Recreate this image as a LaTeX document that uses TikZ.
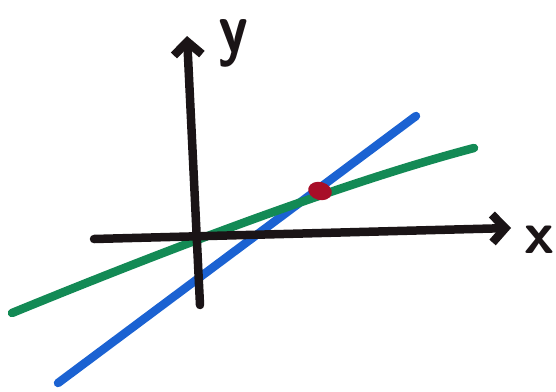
\documentclass[tikz,border=0pt]{standalone}
\usetikzlibrary{arrows.meta,shapes.geometric}
\definecolor{penblack}{HTML}{1A1416}
\definecolor{pengreen}{HTML}{138A55}
\definecolor{penblue}{HTML}{1B62D2}
\definecolor{penred}{HTML}{A80E28}
\tikzset{
  pen/.style={line width=8.5pt, line cap=round, line join=round},
  axisarrow/.style={pen, penblack, -{Straight Barb[length=13pt,width=28pt,line width=8.5pt]}},
  axislabel/.style={text=penblack, font=\sffamily\bfseries\fontsize{60}{60}\selectfont, inner sep=0pt}
}
\begin{document}
\begin{tikzpicture}[x=1pt,y=-1pt]
\useasboundingbox (0,0) rectangle (556,391);
% endpoints
\coordinate (ybot) at (200,305);
\coordinate (ytop) at (187,36);
\coordinate (xleft) at (94,239);
\coordinate (xright) at (511,228);
\coordinate (gstart) at (12,313);
\coordinate (gend) at (474,148);
\coordinate (bstart) at (58,383);
\coordinate (bend) at (416,116);
% lines
\draw[pen, penblue] (bstart) -- (bend);
\draw[pen, pengreen] (gstart) .. controls (200,236) and (360,178) .. (gend);
\draw[axisarrow] (ybot) -- (ytop);
\draw[axisarrow] (xleft) -- (xright);
% intersection
\node[ellipse, fill=penred, minimum width=24pt, minimum height=18pt, inner sep=0pt, rotate=-15] (cross) at (320,191) {};
% labels
\node[axislabel, yscale=1.2] (ylab) at (233,43) {y};
\node[axislabel] (xlab) at (539,240) {x};
\end{tikzpicture}
\end{document}
